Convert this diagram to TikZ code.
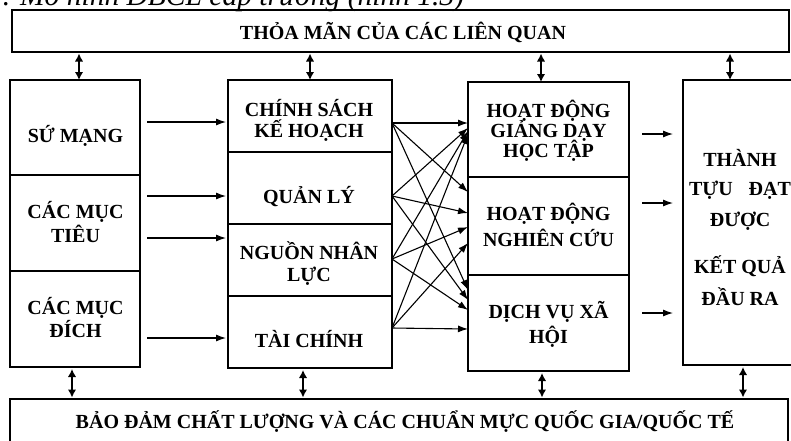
\documentclass[tikz,border=0pt]{standalone}
\usepackage{fontspec}
\setmainfont{Liberation Serif}
\usetikzlibrary{arrows.meta}
\begin{document}
\begin{tikzpicture}[x=1pt,y=-1pt,
  box/.style={draw, line width=1.8pt, rectangle, inner sep=0pt, outer sep=0pt},
  lbl/.style={anchor=base, inner sep=0pt, font=\fontsize{20}{24}\selectfont\bfseries},
  arr/.style={line width=1.1pt, -{Latex[length=10pt,width=7pt]}},
  dbl/.style={line width=1.8pt, {Latex[length=8pt,width=8.5pt]}-{Latex[length=8pt,width=8.5pt]}}]
\useasboundingbox (0,0) rectangle (791,440);

% caption (cut off at the top)
\node[anchor=base west, inner sep=0pt, font=\fontsize{29.5}{30}\selectfont\itshape] (cap) at (-12,5) {1. Mô hình ĐBCL cấp trường (hình 1.3)};

% top and bottom bars
\node[box, minimum width=777pt, minimum height=42pt] (top) at (400.5,31) {};
\node[lbl] (ttop) at (403,39) {THỎA MÃN CỦA CÁC LIÊN QUAN};
\node[box, minimum width=778pt, minimum height=47pt] (bot) at (399,422.5) {};
\node[lbl] (tbot) at (405,428) {BẢO ĐẢM CHẤT LƯỢNG VÀ CÁC CHUẨN MỰC QUỐC GIA/QUỐC TẾ};

% column 1
\node[box, minimum width=130pt, minimum height=95pt] (b11) at (75,127.5) {};
\node[box, minimum width=130pt, minimum height=96pt] (b12) at (75,223) {};
\node[box, minimum width=130pt, minimum height=96pt] (b13) at (75,319) {};
\node[lbl] (t11) at (75.5,142) {SỨ MẠNG};
\node[lbl] (t12a) at (75.5,218) {CÁC MỤC};
\node[lbl] (t12b) at (75.5,242) {TIÊU};
\node[lbl] (t13a) at (75.5,314) {CÁC MỤC};
\node[lbl] (t13b) at (75.5,337) {ĐÍCH};

% column 2
\node[box, minimum width=164pt, minimum height=72pt] (b21) at (310,116) {};
\node[box, minimum width=164pt, minimum height=72pt] (b22) at (310,188) {};
\node[box, minimum width=164pt, minimum height=72pt] (b23) at (310,260) {};
\node[box, minimum width=164pt, minimum height=72pt] (b24) at (310,332) {};
\node[lbl] (t21a) at (309,116) {CHÍNH SÁCH};
\node[lbl] (t21b) at (309,137) {KẾ HOẠCH};
\node[lbl] (t22) at (309,203) {QUẢN LÝ};
\node[lbl] (t23a) at (309,259) {NGUỒN NHÂN};
\node[lbl] (t23b) at (309,281) {LỰC};
\node[lbl] (t24) at (309,347) {TÀI CHÍNH};

% column 3
\node[box, minimum width=161pt, minimum height=95pt] (b31) at (548.5,129.5) {};
\node[box, minimum width=161pt, minimum height=98pt] (b32) at (548.5,226) {};
\node[box, minimum width=161pt, minimum height=96pt] (b33) at (548.5,323) {};
\node[lbl] (t31a) at (548.5,117) {HOẠT ĐỘNG};
\node[lbl] (t31b) at (548.5,137) {GIẢNG DẠY};
\node[lbl] (t31c) at (548.5,157) {HỌC TẬP};
\node[lbl] (t32a) at (548.5,220) {HOẠT ĐỘNG};
\node[lbl] (t32b) at (548.5,246) {NGHIÊN CỨU};
\node[lbl] (t33a) at (548.5,318) {DỊCH VỤ XÃ};
\node[lbl] (t33b) at (548.5,343) {HỘI};

% column 4
\node[box, minimum width=114pt, minimum height=285pt] (b4) at (740,222.5) {};
\node[lbl] (t4a) at (740,166) {THÀNH};
\node[lbl] (t4b) at (740,195) {TỰU\hspace{16pt}ĐẠT};
\node[lbl] (t4c) at (740,226) {ĐƯỢC};
\node[lbl] (t4d) at (740,273) {KẾT QUẢ};
\node[lbl] (t4e) at (740,305) {ĐẦU RA};

% x positions of the double arrows
\coordinate (u1) at (79,0);
\coordinate (u2) at (310,0);
\coordinate (u3) at (541,0);
\coordinate (u4) at (730,0);
\coordinate (d1) at (72,0);
\coordinate (d2) at (303,0);
\coordinate (d3) at (542,0);
\coordinate (d4) at (743,0);

\draw[dbl, shorten <=1.5pt] (top.south -| u1) -- (b11.north -| u1);
\draw[dbl, shorten <=1.5pt] (top.south -| u2) -- (b21.north -| u2);
\draw[dbl, shorten <=1.5pt] (top.south -| u3) -- (b31.north -| u3);
\draw[dbl, shorten <=1.5pt] (top.south -| u4) -- (b4.north -| u4);
\draw[dbl, shorten <=2pt, shorten >=1.5pt] (b13.south -| d1) -- (bot.north -| d1);
\draw[dbl, shorten <=2pt, shorten >=1.5pt] (b24.south -| d2) -- (bot.north -| d2);
\draw[dbl, shorten <=2pt, shorten >=1.5pt] (b33.south -| d3) -- (bot.north -| d3);
\draw[dbl, shorten <=2pt, shorten >=1.5pt] (b4.south -| d4) -- (bot.north -| d4);

% column 1 -> column 2
\coordinate (a1) at (0,122);
\coordinate (a2) at (0,196);
\coordinate (a3) at (0,238);
\coordinate (a4) at (0,338);
\draw[arr, shorten <=7pt, shorten >=2pt] (b11.east |- a1) -- (b21.west |- a1);
\draw[arr, shorten <=7pt, shorten >=2pt] (b12.east |- a2) -- (b22.west |- a2);
\draw[arr, shorten <=7pt, shorten >=2pt] (b12.east |- a3) -- (b23.west |- a3);
\draw[arr, shorten <=7pt, shorten >=2pt] (b13.east |- a4) -- (b24.west |- a4);

% column 2 -> column 3 (all to all)
\coordinate (s1) at (0,123);
\coordinate (s2) at (0,196);
\coordinate (s3) at (0,259);
\coordinate (s4) at (0,328);
\coordinate (e11) at (0,123);
\coordinate (e21) at (0,128);
\coordinate (e31) at (0,131);
\coordinate (e41) at (0,134);
\coordinate (e12) at (0,192);
\coordinate (e22) at (0,213);
\coordinate (e32) at (0,227);
\coordinate (e42) at (0,243);
\coordinate (e13) at (0,290);
\coordinate (e23) at (0,300);
\coordinate (e33) at (0,310);
\coordinate (e43) at (0,329);
\draw[arr] (b21.east |- s1) -- (b31.west |- e11);
\draw[arr] (b21.east |- s1) -- (b32.west |- e12);
\draw[arr] (b21.east |- s1) -- (b33.west |- e13);
\draw[arr] (b22.east |- s2) -- (b31.west |- e21);
\draw[arr] (b22.east |- s2) -- (b32.west |- e22);
\draw[arr] (b22.east |- s2) -- (b33.west |- e23);
\draw[arr] (b23.east |- s3) -- (b31.west |- e31);
\draw[arr] (b23.east |- s3) -- (b32.west |- e32);
\draw[arr] (b23.east |- s3) -- (b33.west |- e33);
\draw[arr] (b24.east |- s4) -- (b31.west |- e41);
\draw[arr] (b24.east |- s4) -- (b32.west |- e42);
\draw[arr] (b24.east |- s4) -- (b33.west |- e43);

% column 3 -> column 4
\coordinate (r1) at (0,134);
\coordinate (r2) at (0,203);
\coordinate (r3) at (0,313);
\draw[arr, shorten <=13pt, shorten >=10pt] (b31.east |- r1) -- (b4.west |- r1);
\draw[arr, shorten <=13pt, shorten >=10pt] (b32.east |- r2) -- (b4.west |- r2);
\draw[arr, shorten <=13pt, shorten >=10pt] (b33.east |- r3) -- (b4.west |- r3);
\end{tikzpicture}
\end{document}
